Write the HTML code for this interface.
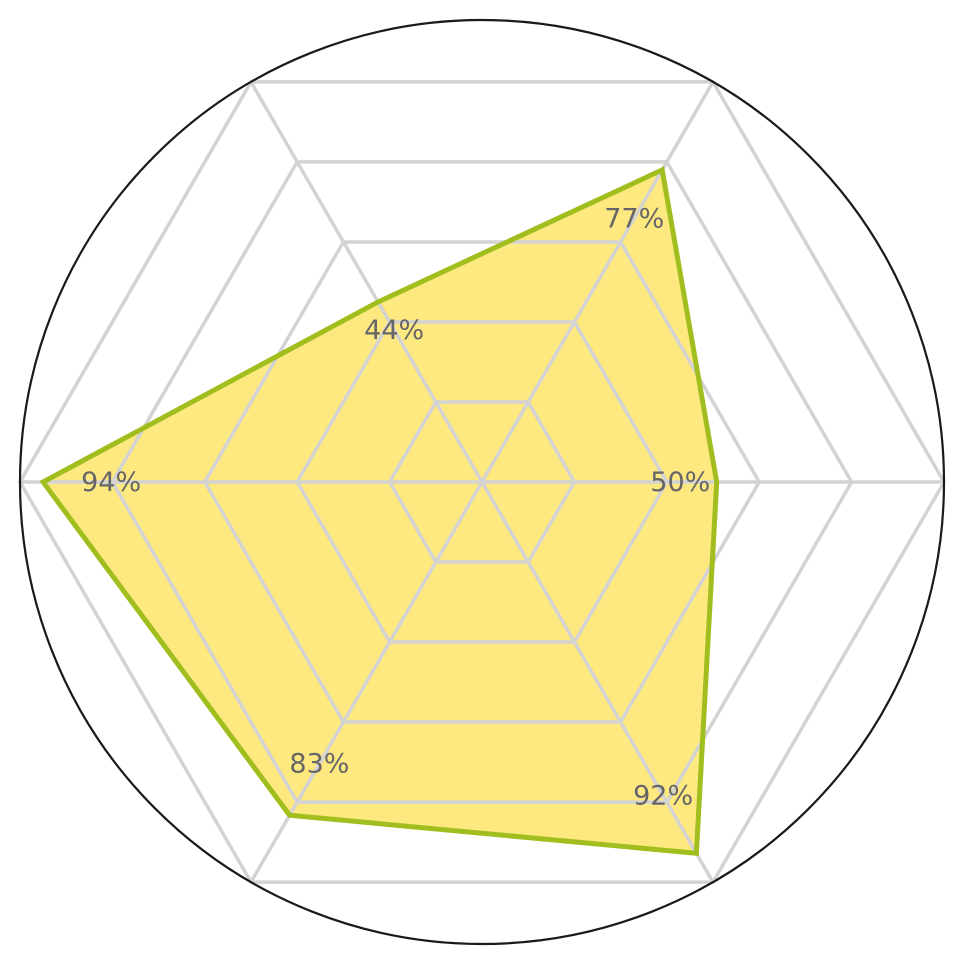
<!DOCTYPE html>
<html><head><meta charset="utf-8"><style>
html,body{margin:0;padding:0;background:#fff;}
svg text{font-family:"DejaVu Sans","Liberation Sans",sans-serif;}
</style></head><body>
<svg id="chart" width="963" height="964" viewBox="0 0 963 964" xmlns="http://www.w3.org/2000/svg">
<g id="series"></g>
<g id="grid"></g>
<g id="labels"></g>
<circle cx="482" cy="482" r="462" fill="none" stroke="#1a1a1a" stroke-width="2.2"/>
</svg>
<script>
const categories = ["A","B","C","D","E","F"];
const values = [50.8, 78, 45, 95, 83.3, 92.8];
const valueLabels = ["50%","77%","44%","94%","83%","92%"];
const gridLevels = [20, 40, 60, 80, 100];
const maxValue = 100;

const cx = 482, cy = 482, R = 462;
const NS = "http://www.w3.org/2000/svg";
function angle(i){ return -i * 2 * Math.PI / categories.length; }
function pt(i, v){ const r = v / maxValue * R; return [cx + r*Math.cos(angle(i)), cy + r*Math.sin(angle(i))]; }

const series = document.getElementById('series');
const fillPoly = document.createElementNS(NS, 'polygon');


fillPoly.setAttribute('points', values.map((v,i)=>pt(i,v).join(',')).join(' '));
fillPoly.setAttribute('fill', '#fee880');
fillPoly.setAttribute('stroke', 'none');
series.appendChild(fillPoly);

const grid = document.getElementById('grid');
gridLevels.forEach((lv, k) => {
  const p = document.createElementNS(NS, 'polygon');
  
  
  p.setAttribute('points', categories.map((c,i)=>pt(i,lv).join(',')).join(' '));
  p.setAttribute('fill', 'none');
  p.setAttribute('stroke', '#d3d3d3');
  p.setAttribute('stroke-width', '3.5');
  grid.appendChild(p);
});
categories.forEach((c,i) => {
  const [x,y] = pt(i, maxValue);
  const l = document.createElementNS(NS, 'line');
  
  
  l.setAttribute('x1', cx); l.setAttribute('y1', cy);
  l.setAttribute('x2', x); l.setAttribute('y2', y);
  l.setAttribute('stroke', '#d3d3d3');
  l.setAttribute('stroke-width', '3.5');
  grid.appendChild(l);
});

const outline = document.createElementNS(NS, 'polygon');


outline.setAttribute('points', values.map((v,i)=>pt(i,v).join(',')).join(' '));
outline.setAttribute('fill', 'none');
outline.setAttribute('stroke', '#a0bf1e');
outline.setAttribute('stroke-width', '5');
series.parentNode.insertBefore(outline, document.getElementById('labels'));

const labels = document.getElementById('labels');
values.forEach((v,i) => {
  const [x,y] = pt(i, v*0.845);
  const t = document.createElementNS(NS, 'text');
  
  
  t.setAttribute('x', x); t.setAttribute('y', y + 9);
  t.setAttribute('text-anchor', 'middle');
  t.setAttribute('font-size', '27');
  t.setAttribute('fill', '#666666');
  t.textContent = valueLabels[i];
  labels.appendChild(t);
});
</script>
</body></html>
